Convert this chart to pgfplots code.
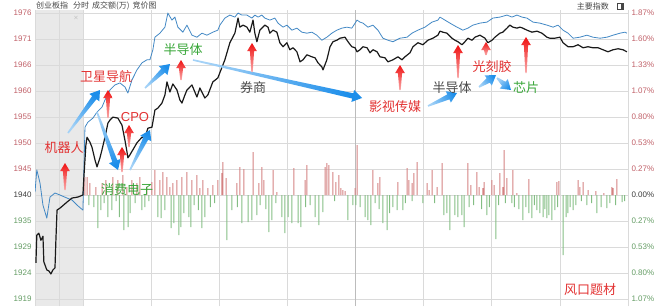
\documentclass[border=0pt]{standalone}
\usepackage{pgfplots}
\pgfplotsset{compat=1.18}
\usepackage{fontspec}
\setmainfont{Liberation Sans}
\newfontfamily\cjk{Noto Sans CJK SC}
\usetikzlibrary{calc}

\definecolor{bandgray}{RGB}{233,233,233}
\definecolor{gridgray}{RGB}{218,218,218}
\definecolor{lunchgray}{RGB}{188,188,188}
\definecolor{upred}{RGB}{192,96,104}
\definecolor{downgreen}{RGB}{100,156,100}
\definecolor{flatgray}{RGB}{60,60,60}
\definecolor{barred}{RGB}{212,130,130}
\definecolor{bargreen}{RGB}{132,190,132}
\definecolor{idxblack}{RGB}{25,25,25}
\definecolor{idxblue}{RGB}{66,136,196}
\definecolor{arrowred}{RGB}{240,18,18}
\definecolor{arrowblue}{RGB}{28,142,234}
\definecolor{notered}{RGB}{226,50,50}
\definecolor{notegreen}{RGB}{56,166,56}
\definecolor{notegray}{RGB}{72,72,72}
\definecolor{titlegray}{RGB}{70,70,70}

% upward marker: x, tip row, tail row (picture rows counted from the top)
\newcommand{\upmark}[3]{%
  \shade[top color=arrowred, bottom color=arrowred!35!white]
    ({#1-0.7},{306-#3}) -- ({#1-2.1},{306-(#2+8)}) -- ({#1-4.8},{306-(#2+8)})
    -- (#1,{306-#2}) -- ({#1+4.8},{306-(#2+8)}) -- ({#1+2.1},{306-(#2+8)})
    -- ({#1+0.7},{306-#3}) -- cycle;}

% tapered pointer from (x1,row1) to (x2,row2); last argument turns the shading
\newcommand{\pointer}[5]{%
  \path (#1,{306-#2}) coordinate (ta) (#3,{306-#4}) coordinate (tb);
  \path ($(tb)!9.5pt!(ta)$) coordinate (th);
  \shade[top color=arrowblue, bottom color=arrowblue!40!white, shading angle=#5]
    ($(ta)!0.8pt!90:(tb)$) -- ($(th)!2.7pt!90:(tb)$) -- ($(th)!6.2pt!90:(tb)$)
    -- (tb) -- ($(th)!6.2pt!-90:(tb)$) -- ($(th)!2.7pt!-90:(tb)$)
    -- ($(ta)!0.8pt!-90:(tb)$) -- cycle;}

\begin{document}
\begin{tikzpicture}

% ---------- buy/sell bars, grid and right-hand percentage scale ----------
\begin{axis}[
  set layers,
  at={(35pt,0pt)}, anchor=south west,
  width=593pt, height=296pt, scale only axis,
  xmin=-21.1, xmax=240, ymin=-111, ymax=185,
  enlargelimits=false,
  axis line style={draw=none},
  major tick length=0pt,
  xtick={-21.1,-10.55,0,30,60,90,150,180,210,240},
  xticklabels={},
  extra x ticks={120}, extra x tick labels={},
  extra x tick style={grid style={draw=lunchgray, line width=0.8pt}},
  xmajorgrids, ymajorgrids,
  grid style={draw=gridgray, line width=0.7pt},
  ytick={-104,-78,-52,-26,0,26,52,78,104,130,156,182},
  yticklabels={\textcolor{downgreen}{1.07\%},\textcolor{downgreen}{0.80\%},\textcolor{downgreen}{0.53\%},\textcolor{downgreen}{0.27\%},\textcolor{flatgray}{0.00\%},\textcolor{upred}{0.27\%},\textcolor{upred}{0.53\%},\textcolor{upred}{0.80\%},\textcolor{upred}{1.07\%},\textcolor{upred}{1.33\%},\textcolor{upred}{1.60\%},\textcolor{upred}{1.87\%}},
  yticklabel pos=right,
  yticklabel style={font=\fontsize{8}{8}\selectfont},
  ybar, bar width=1pt, bar shift=0pt,
]
\begin{pgfonlayer}{axis background}
  \fill[bandgray] (axis cs:-21.1,-111) rectangle (axis cs:0,185);
\end{pgfonlayer}
\addplot[draw=none, fill=barred] coordinates {
(0.9,18)(1.8,18)(3.1,12)(5.7,8)(8.4,12)(10.1,15)(13.2,18)(15.4,15)(17.6,20)(19.4,8)
(21.6,15)(23.8,12)(25.1,18)(28.2,8)(30.4,13)(31.7,25)(33.9,15)(35.2,23)(37.0,18)(38.3,8)
(39.6,12)(41.4,15)(43.6,18)(45.8,23)(48.0,15)(50.2,20)(51.5,7)(52.8,15)(55.0,7)(57.2,10)
(59.4,15)(61.2,22)(61.6,33)(63.0,17)(67.8,12)(69.1,28)(70.9,26)(74.9,43)(77.5,12)(78.8,28)
(79.7,15)(83.7,25)(85.4,3)(92.9,27)(97.8,15)(98.6,30)(106.6,28)(107.4,32)(108.3,30)(110.1,23)
(111.4,13)(112.7,20)(113.6,7)(114.5,5)(115.4,4)(119.8,7)(120.7,50)(127.7,25)(129.9,12)(130.8,18)
(138.7,13)(142.7,27)(143.5,15)(144.9,12)(145.7,22)(147.1,33)(151.5,12)(152.4,5)(153.7,25)(155.9,8)
(158.1,32)(169.5,32)(170.8,10)(173.5,23)(174.4,8)(176.1,7)(176.6,13)(180.1,15)(181.0,10)(183.6,22)
(184.9,8)(185.4,45)(186.7,17)(189.3,25)(191.1,2)(196.4,16)(208.7,13)(209.6,14)(218.0,15)(218.8,8)
(220.2,13)(222.4,5)(225.9,4)(229.4,2)(232.9,8)(233.4,7)(235.1,16)};
\addplot[draw=none, fill=bargreen] coordinates {
(2.6,-10)(4.8,-12)(6.6,-33)(7.9,-15)(9.3,-8)(11.0,-22)(12.7,-15)(14.6,-6)(16.0,-22)(18.0,-35)
(19.9,-32)(20.8,-18)(23.0,-8)(26.0,-15)(27.3,-12)(29.0,-6)(33.0,-22)(34.4,-23)(36.1,-15)(38.8,-33)
(40.1,-28)(42.2,-40)(43.1,-32)(44.5,-18)(46.7,-22)(47.5,-32)(49.0,-10)(50.8,-15)(52.4,-33)(53.7,-22)
(56.1,-12)(58.0,-8)(63.4,-45)(65.6,-15)(68.0,-12)(70.0,-28)(72.7,-27)(74.4,-25)(76.6,-20)(78.0,-10)
(80.5,-14)(81.9,-37)(83.2,-25)(85.0,-8)(87.6,-22)(88.9,-38)(90.3,-22)(92.0,-28)(94.7,-28)(96.0,-32)
(98.0,-12)(100.0,-10)(102.2,-22)(103.9,-30)(105.7,-17)(110.8,-6)(116.7,-25)(118.9,-10)(120.2,-10)(122.0,-12)
(124.2,-22)(125.5,-25)(126.8,-30)(128.6,-8)(130.4,-14)(132.1,-28)(133.9,-35)(135.0,-18)(136.5,-12)(138.3,-15)
(140.9,-15)(142.0,-8)(145.0,-6)(149.7,-8)(154.8,-8)(158.9,-20)(160.3,-18)(161.6,-35)(163.8,-20)(165.1,-22)
(166.9,-20)(167.8,-32)(170.0,-12)(172.0,-10)(175.5,-14)(177.9,-20)(179.0,-12)(181.8,-44)(183.0,-10)(186.0,-8)
(188.9,-8)(190.0,-12)(192.0,-14)(193.7,-25)(195.0,-12)(196.3,-18)(197.7,-23)(198.8,-10)(199.9,-15)(201.2,-18)
(202.6,-22)(203.4,-14)(204.3,-23)(205.2,-20)(206.5,-25)(207.8,-15)(209.0,-12)(211.4,-60)(212.7,-22)(213.5,-18)
(214.5,-12)(215.8,-15)(217.0,-10)(219.5,-6)(221.9,-10)(224.0,-8)(226.3,-18)(228.2,-12)(230.7,-13)(232.0,-8)
(234.5,-10)(237.4,-7)(238.5,-6)};
\end{axis}

% ---------- index lines with the left-hand point scale ----------
\begin{axis}[
  at={(35pt,0pt)}, anchor=south west,
  width=593pt, height=296pt, scale only axis,
  xmin=-21.1, xmax=240, ymin=1917.62, ymax=1976.51,
  enlargelimits=false,
  axis line style={draw=none},
  major tick length=0pt,
  xtick=\empty,
  ytick={1919.009,1924.182,1929.355,1934.527,1939.700,1944.873,1950.045,1955.218,1960.391,1965.564,1970.736,1975.909},
  yticklabels={\textcolor{downgreen}{1919},\textcolor{downgreen}{1924},\textcolor{downgreen}{1929},\textcolor{downgreen}{1935},\textcolor{flatgray}{1940},\textcolor{upred}{1945},\textcolor{upred}{1950},\textcolor{upred}{1955},\textcolor{upred}{1960},\textcolor{upred}{1966},\textcolor{upred}{1971},\textcolor{upred}{1976}},
  yticklabel style={font=\fontsize{8}{8}\selectfont},
]
\addplot[idxblue, line width=0.8pt, line join=round] coordinates {
(-21.1,1940.3)(-20.3,1944.7)(-18.9,1942.1)(-17.6,1937.7)(-15.9,1935.1)(-14.5,1939.3)(-12.3,1940.1)(-10.1,1939.7)(-7.0,1939.1)(-4.8,1938.7)(-2.6,1937.7)(0,1936.7)
(0.9,1953.2)(2.2,1954.2)(4.4,1955.0)(6.2,1956.2)(8.4,1957.2)(9.7,1958.6)(11.9,1960.6)(14.1,1961.6)(16.3,1962.0)(18.5,1961.2)(19.8,1960.0)(21.6,1962.6)(23.8,1964.6)(26.0,1966.0)(28.2,1966.6)(29.5,1966.6)(30.8,1968.6)(31.7,1971.1)(33.9,1971.9)(36.1,1973.1)(37.4,1975.9)(39.2,1974.5)(40.5,1975.1)(41.8,1973.1)(44.0,1972.1)(45.8,1973.5)(48.0,1971.5)(50.2,1971.1)(52.4,1971.9)(54.6,1971.5)(57.2,1972.1)(59.4,1972.5)
(60.3,1973.5)(62.5,1974.9)(64.7,1975.5)(66.9,1975.1)(68.3,1975.9)(70.0,1975.5)(72.2,1975.5)(74.4,1974.9)(75.7,1975.5)(77.1,1975.1)(78.8,1975.5)(80.1,1974.9)(82.3,1974.5)(84.5,1974.9)(85.9,1973.9)(88.1,1973.1)(89.8,1973.5)(92.0,1972.5)(94.2,1972.9)(96.4,1972.1)(98.6,1971.9)(100.8,1972.1)(103.0,1971.5)(105.2,1970.5)(107.4,1971.1)(109.6,1971.9)(111.8,1972.5)(114.0,1972.9)(116.2,1973.1)(118.4,1972.9)
(120.7,1974.5)(122.0,1974.1)(123.3,1973.9)(125.5,1973.1)(127.7,1973.5)(129.9,1972.5)(132.1,1970.9)(134.3,1970.5)(136.5,1970.2)(139.6,1970.9)(142.7,1971.1)(144.9,1971.9)(147.5,1972.5)(150.6,1973.1)(153.7,1974.1)(156.3,1974.5)(157.2,1975.1)(159.4,1974.5)(161.6,1973.9)(164.7,1973.1)(167.3,1972.5)(169.5,1972.9)(171.7,1973.5)(174.8,1973.9)(177.9,1974.1)
(180.5,1974.9)(183.6,1975.1)(186.7,1975.5)(188.9,1975.1)(191.1,1975.5)(193.3,1975.1)(195.5,1974.9)(198.2,1974.1)(201.2,1973.9)(204.3,1973.5)(207.0,1973.1)(209.2,1973.5)(211.4,1972.5)(213.6,1971.9)(215.8,1970.9)(218.8,1971.1)(221.9,1971.5)(224.6,1971.1)(227.7,1970.9)(230.7,1971.1)(233.4,1971.5)(236.5,1971.9)(238.7,1972.1)(239.5,1971.9)};
\addplot[idxblack, line width=1.2pt, line join=round] coordinates {
(-20.7,1926.2)(-20.3,1931.7)(-19.4,1932.1)(-18.5,1930.7)(-17.6,1931.5)(-17.2,1926.4)(-15.9,1924.8)(-15.0,1924.6)(-14.1,1924.0)(-13.2,1924.8)(-12.3,1925.2)(-11.9,1930.7)(-11.4,1936.7)(-10.1,1937.1)(-7.0,1938.3)(-4.8,1939.1)(-2.2,1939.3)(0,1939.7)
(0.4,1943.1)(1.3,1949.6)(1.8,1951.2)(3.1,1950.2)(4.0,1949.2)(5.3,1946.7)(6.2,1945.3)(7.5,1947.1)(8.4,1948.7)(9.7,1951.2)(11.0,1954.0)(11.9,1954.6)(13.2,1955.2)(15.4,1955.0)(17.2,1953.6)(18.5,1950.6)(19.4,1948.3)(19.8,1947.1)(20.7,1947.7)(22.0,1948.7)(23.8,1950.1)(26.0,1951.2)(27.3,1951.0)(28.6,1953.0)(30.4,1953.2)(31.7,1956.6)(33.0,1957.0)(34.8,1958.0)(36.1,1959.6)(37.0,1962.2)(38.3,1960.2)(39.6,1961.8)(41.4,1960.6)(42.7,1958.6)(43.6,1958.0)(44.9,1959.6)(45.8,1960.6)(48.0,1961.6)(50.2,1959.2)(51.5,1961.0)(53.7,1959.0)(55.0,1959.6)(57.2,1962.2)(59.4,1963.0)
(62.5,1966.6)(64.7,1970.0)(66.9,1971.9)(68.3,1974.9)(69.1,1973.1)(70.5,1973.5)(72.2,1973.1)(73.5,1972.1)(74.9,1974.5)(75.7,1971.9)(76.6,1970.2)(77.9,1972.5)(80.1,1973.5)(81.5,1973.1)(82.3,1971.9)(83.7,1972.5)(85.4,1972.1)(86.7,1970.0)(88.1,1969.2)(89.8,1970.0)(91.1,1968.6)(92.5,1969.0)(94.2,1968.2)(95.6,1966.2)(96.9,1966.6)(98.6,1967.6)(100.8,1967.2)(102.2,1967.0)(103.5,1966.0)(105.2,1965.2)(105.7,1964.6)(107.4,1966.6)(108.8,1969.2)(110.1,1970.2)(111.8,1970.5)(113.2,1970.9)(115.4,1971.1)(116.7,1970.2)(118.4,1969.2)(119.8,1969.0)
(120.7,1968.2)(122.0,1968.6)(123.3,1969.2)(125.1,1969.0)(126.4,1968.0)(127.7,1968.6)(129.5,1968.2)(130.8,1967.2)(133.0,1967.0)(134.3,1966.2)(136.5,1966.6)(138.7,1967.2)(140.5,1966.6)(141.8,1967.2)(144.0,1968.0)(145.3,1969.2)(147.5,1970.0)(149.7,1969.6)(151.9,1970.5)(154.1,1970.9)(156.3,1971.5)(157.2,1972.3)(158.5,1972.1)(160.3,1971.9)(162.5,1970.9)(163.8,1970.5)(165.1,1970.2)(166.9,1969.6)(168.2,1970.2)(169.5,1970.9)(171.3,1970.5)(172.6,1971.1)(174.8,1971.5)(177.0,1970.9)(178.3,1970.0)
(180.1,1970.5)(181.4,1971.1)(183.6,1971.9)(184.9,1972.1)(186.7,1972.9)(188.0,1973.5)(189.3,1973.1)(191.1,1972.9)(192.4,1973.1)(193.7,1972.9)(195.5,1972.5)(197.7,1972.1)(199.9,1972.3)(202.1,1971.9)(204.3,1971.1)(205.6,1970.9)(207.8,1970.9)(210.0,1971.1)(211.4,1970.0)(213.6,1969.2)(215.8,1969.2)(218.0,1969.6)(220.2,1969.0)(222.4,1969.2)(224.6,1969.0)(226.8,1969.0)(229.0,1968.6)(231.2,1968.2)(233.4,1968.6)(235.6,1968.8)(237.8,1968.6)(239.5,1968.2)};
\end{axis}

% ---------- header and theme annotations ----------
\begin{scope}[x=1pt, y=1pt]
\node[anchor=west, inner sep=0pt, text=titlegray, font=\cjk\fontsize{8}{8}\selectfont]
  at (36,{306-6}) {创业板指\hspace{5pt}分时\hspace{3pt}成交额(万)\hspace{3pt}竞价图};
\node[anchor=east, inner sep=0pt, text=titlegray, font=\cjk\fontsize{8}{8}\selectfont]
  at (609,{306-6}) {主要指数};
\draw[titlegray, line width=0.6pt] (617.5,{306-9.5}) rectangle (623.5,{306-3.5});
\fill[titlegray] (621,{306-9.5}) rectangle (623.5,{306-3.5});
\node[text=gray!70, inner sep=0pt, font=\fontsize{6}{6}\selectfont] at (76,{306-18}) {$\times$};

% blue pointers
\pointer{68}{133}{100}{90}{-37}
\pointer{97}{112}{118}{170}{-158}
\pointer{130}{170}{150}{130}{-27}
\pointer{145}{88}{170}{64}{-49}
\pointer{193}{60}{362}{98}{-103}
\pointer{428}{106}{457}{93}{-66}
\pointer{479}{87}{496}{75}{-55}
\pointer{497}{78}{511}{90}{-130}

% red upward markers
\upmark{65}{163}{190}
\upmark{108}{90}{118}
\upmark{122}{147}{172}
\upmark{129}{125}{147}
\upmark{181}{60}{80}
\upmark{252}{43}{72}
\upmark{400}{65}{90}
\upmark{458}{45}{78}
\upmark{486}{42}{55}
\upmark{526}{37}{73}

% theme labels
\node[text=notered,   font=\cjk\fontsize{13}{13}\selectfont] at (64,{306-148}) {机器人};
\node[text=notered,   font=\cjk\fontsize{13}{13}\selectfont] at (106,{306-77}) {卫星导航};
\node[text=notered,   font=\fontsize{13}{13}\selectfont]     at (135,{306-117}) {CPO};
\node[text=notegreen, font=\cjk\fontsize{13}{13}\selectfont] at (127,{306-190}) {消费电子};
\node[text=notegreen, font=\cjk\fontsize{13}{13}\selectfont] at (183,{306-50}) {半导体};
\node[text=notegray,  font=\cjk\fontsize{13}{13}\selectfont] at (253,{306-88}) {券商};
\node[text=notered,   font=\cjk\fontsize{13}{13}\selectfont] at (395,{306-107}) {影视传媒};
\node[text=notegray,  font=\cjk\fontsize{13}{13}\selectfont] at (452,{306-88}) {半导体};
\node[text=notered,   font=\cjk\fontsize{13}{13}\selectfont] at (492,{306-67}) {光刻胶};
\node[text=notegreen, font=\cjk\fontsize{13}{13}\selectfont] at (526,{306-88}) {芯片};
\node[text=notered,   font=\cjk\fontsize{13}{13}\selectfont] at (590,{306-290}) {风口题材};

% page frame
\pgfresetboundingbox
\path[use as bounding box] (0,0) rectangle (660,306);
\end{scope}
\end{tikzpicture}
\end{document}
